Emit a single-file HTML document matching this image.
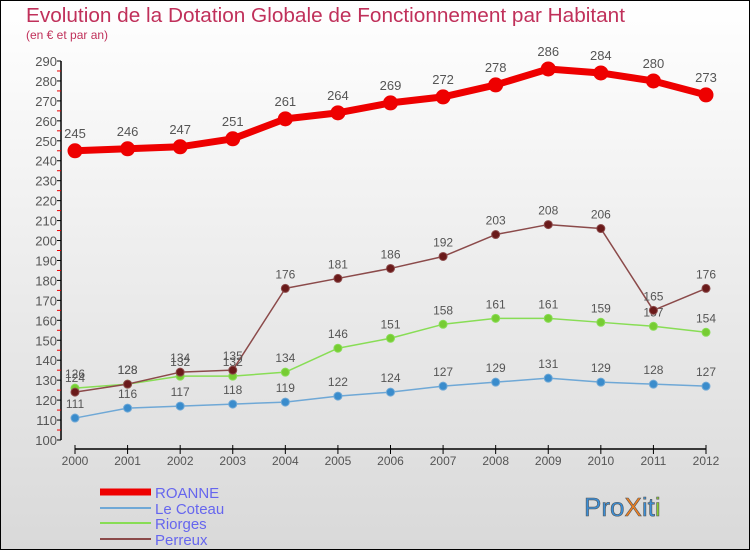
<!DOCTYPE html>
<html><head><meta charset="utf-8"><style>
body{margin:0}
svg{display:block;font-family:"Liberation Sans",sans-serif}
</style></head><body>
<svg width="750" height="550">
<defs><linearGradient id="bg" x1="0" y1="0" x2="0" y2="1"><stop offset="0" stop-color="#ffffff"/><stop offset="1" stop-color="#d9d9d9"/></linearGradient></defs>
<rect x="0.5" y="0.5" width="749" height="549" fill="url(#bg)" stroke="#000"/>
<text x="26" y="22" font-size="20" fill="#c0305a" textLength="599" lengthAdjust="spacingAndGlyphs">Evolution de la Dotation Globale de Fonctionnement par Habitant</text>
<text x="26" y="39" font-size="12" fill="#c0305a">(en € et par an)</text>
<g id="axes"></g><g id="series"></g>
<g>
<line x1="100" y1="492" x2="151" y2="492" stroke="#e00" stroke-width="7"/>
<text x="155" y="498" font-size="15" fill="#6666ee">ROANNE</text>
<line x1="100" y1="508" x2="151" y2="508" stroke="#6fa8d6" stroke-width="2"/>
<text x="155" y="514" font-size="15" fill="#6666ee">Le Coteau</text>
<line x1="100" y1="523" x2="151" y2="523" stroke="#88dd55" stroke-width="2"/>
<text x="155" y="529" font-size="15" fill="#6666ee">Riorges</text>
<line x1="100" y1="539" x2="151" y2="539" stroke="#8b4a4a" stroke-width="2"/>
<text x="155" y="545" font-size="15" fill="#6666ee">Perreux</text>
</g>
<g font-size="26" stroke="#555" stroke-width="0.6">
<text x="584" y="516"><tspan fill="#3b8fd8">Pro</tspan><tspan fill="#f08020">X</tspan><tspan fill="#3b8fd8">it</tspan><tspan fill="#88cc33">i</tspan></text>
</g>
</svg>
<script>
const years=[2000,2001,2002,2003,2004,2005,2006,2007,2008,2009,2010,2011,2012];
const roanne=[245,246,247,251,261,264,269,272,278,286,284,280,273];
const coteau=[111,116,117,118,119,122,124,127,129,131,129,128,127];
const riorges=[126,128,132,132,134,146,151,158,161,161,159,157,154];
const perreux=[124,128,134,135,176,181,186,192,203,208,206,165,176];
const yTicks=[100,110,120,130,140,150,160,170,180,190,200,210,220,230,240,250,260,270,280,290];
const NS='http://www.w3.org/2000/svg';
const xs=i=>75+i*(706-75)/(years.length-1);
const ys=v=>440-(v-100)*(379/190);
function mk(tag,attrs,parent,txt){const e=document.createElementNS(NS,tag);for(const k in attrs)e.setAttribute(k,attrs[k]);if(txt!==undefined)e.textContent=txt;parent.appendChild(e);return e;}
const ax=document.getElementById('axes');
let e=mk('line',{x1:61,y1:ys(290),x2:61,y2:440,stroke:'#000','stroke-width':1.5},ax);


yTicks.forEach(t=>{
 mk('line',{x1:57,y1:ys(t),x2:61,y2:ys(t),stroke:'#000'},ax);
 if(t<290)mk('line',{x1:57,y1:ys(t+5),x2:61,y2:ys(t+5),stroke:'#e00'},ax);
 e=mk('text',{x:57,y:ys(t)+5,'text-anchor':'end','font-size':13,fill:'#555'},ax,t);
 
 
});
e=mk('line',{x1:75,y1:449,x2:706,y2:449,stroke:'#000','stroke-width':1.5},ax);


years.forEach((y,i)=>{
 mk('line',{x1:xs(i),y1:445,x2:xs(i),y2:454,stroke:'#000'},ax);
 e=mk('text',{x:xs(i),y:465,'text-anchor':'middle','font-size':12,fill:'#555'},ax,y);
 
 
});
const sg=document.getElementById('series');
function series(vals,color,dot,w,r,name,fs){
 const g=mk('g',{},sg);
 
 
 mk('polyline',{points:vals.map((v,i)=>xs(i)+','+ys(v)).join(' '),fill:'none',stroke:color,'stroke-width':w,'stroke-linejoin':'round'},g);
 vals.forEach((v,i)=>{
  const c=mk('circle',{cx:xs(i),cy:ys(v),r:r,fill:dot,stroke:color,'stroke-width':1},g);
  
  
  const t=mk('text',{x:xs(i),y:ys(v)-r-6,'text-anchor':'middle','font-size':fs,fill:'#555'},g,v);
  
  
 });
}
series(coteau,'#6fa8d6','#3a8ccc',1.5,4,'le-coteau',12);
series(riorges,'#88dd55','#77cc33',1.5,4,'riorges',12);
series(perreux,'#8b4a4a','#6a1a1a',1.5,4,'perreux',12);
series(roanne,'#ee0000','#ee0000',7,7,'roanne',13);
</script>
</body></html>
